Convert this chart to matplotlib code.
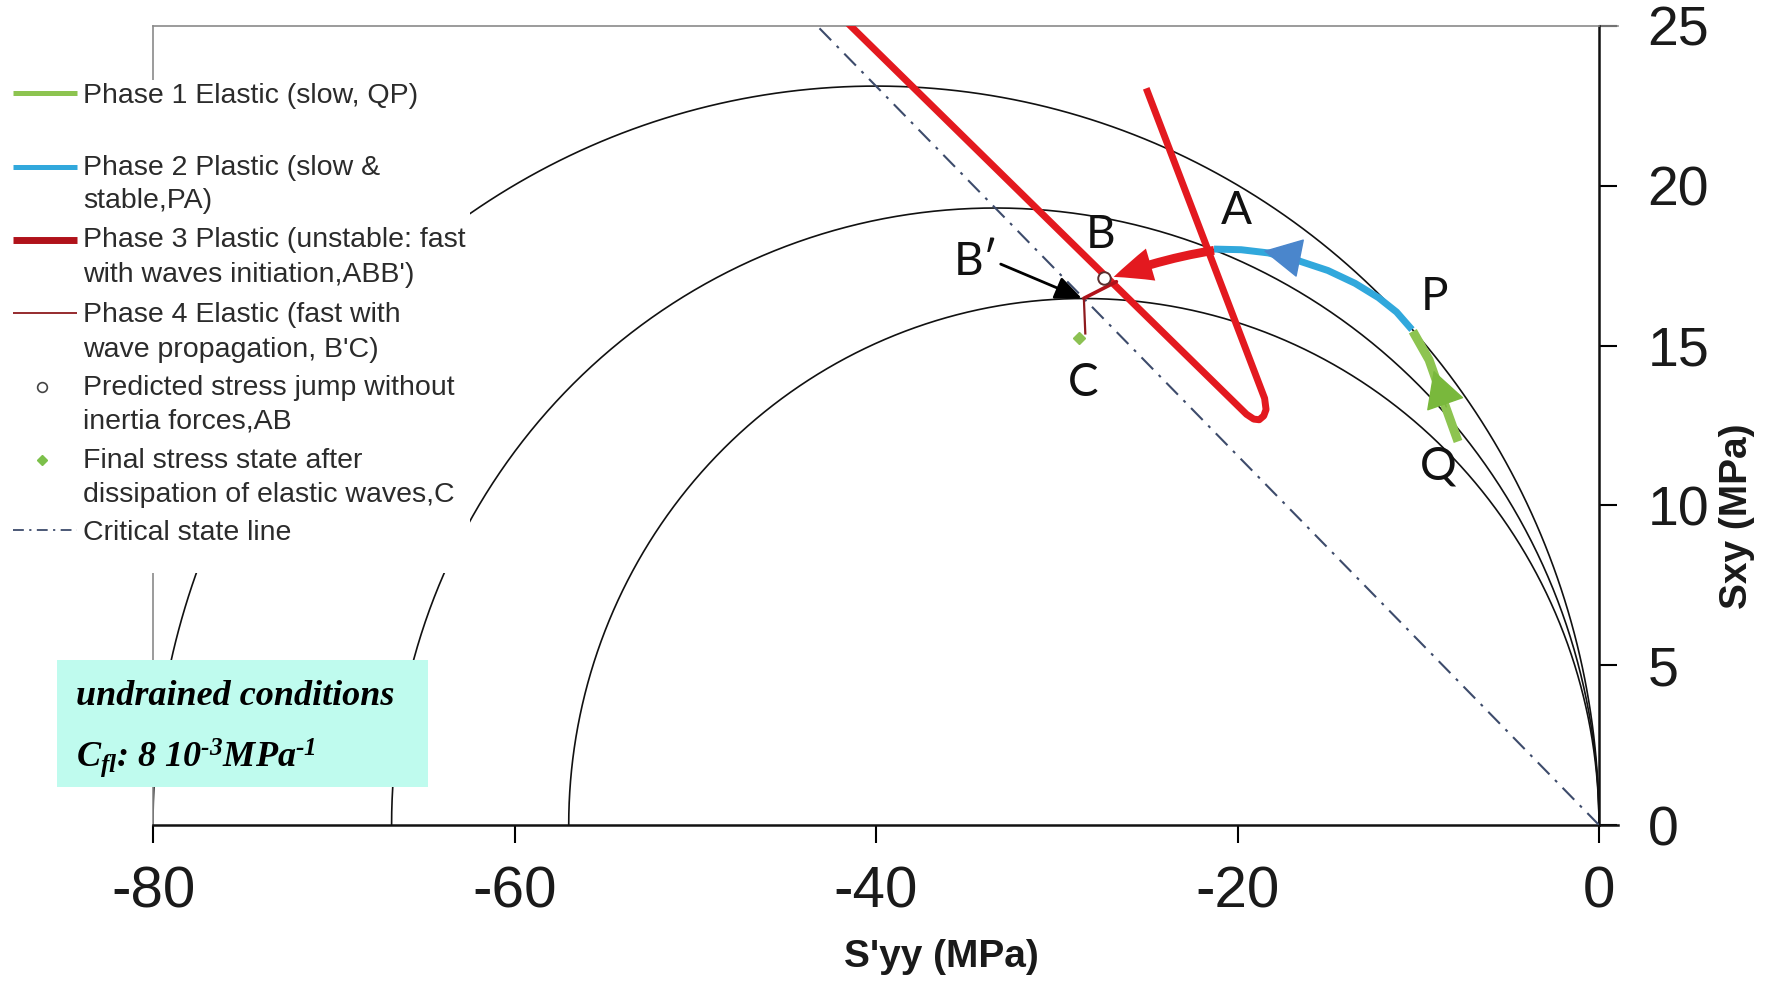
import matplotlib
matplotlib.use('Agg')
import matplotlib.pyplot as plt
import numpy as np
from matplotlib import font_manager as fm
from matplotlib.patches import Rectangle

plt.rcParams['axes.unicode_minus'] = False
plt.rcParams['mathtext.fontset'] = 'custom'
plt.rcParams['mathtext.rm'] = 'Liberation Serif:bold:italic'
plt.rcParams['mathtext.it'] = 'Liberation Serif:bold:italic'
plt.rcParams['mathtext.bf'] = 'Liberation Serif:bold:italic'

avail = {f.name for f in fm.fontManager.ttflist}
NARROW = 'Liberation Sans Narrow' in avail

# ---------------- data ----------------
yield_p0 = [-80.0, -66.8, -57.0]          # yield surface sizes (MPa)
csl_M = 0.578                              # critical state slope

phase1_x = [-7.8, -8.5, -9.4, -10.3]       # Q -> P
phase1_y = [12.0, 13.1, 14.55, 15.45]

phase2_x = [-10.35, -11.2, -12.2, -13.5, -15.0, -16.6, -18.3, -19.8, -21.3]   # P -> A
phase2_y = [15.5, 16.05, 16.5, 16.95, 17.35, 17.65, 17.9, 18.0, 18.02]

phase3_x = [-25.05, -18.5, -18.42, -18.55, -18.8, -19.1, -19.5,
            -27.4, -41.4, -43.0]
phase3_y = [23.05, 13.35, 13.0, 12.8, 12.68, 12.7, 12.85,
            17.23, 25.0, 25.9]

jump_start = (-21.3, 17.98)     # A
jump_end = (-26.85, 17.15)      # arrow tip towards B
bb_x = [-26.7, -28.5]           # B -> B'
bb_y = [17.0, 16.48]
phase4_x = [-28.5, -28.42]      # B' -> C
phase4_y = [16.48, 15.38]
point_B = (-27.38, 17.11)
point_C = (-28.77, 15.23)
bprime_arrow_start = (-33.1, 17.55)
bprime_arrow_end = (-28.62, 16.48)

point_labels = ['A', 'B', 'B\u2032', 'C', 'P', 'Q']
label_x = [-20.05, -27.55, -34.45, -28.54, -9.11, -8.92]
label_y = [19.22, 18.45, 17.63, 13.82, 16.53, 11.21]

x_ticks = [-80, -60, -40, -20, 0]
y_ticks = [0, 5, 10, 15, 20, 25]

legend_lines = [
    ["Phase 1 Elastic (slow, QP)"],
    ["Phase 2 Plastic (slow &", "stable,PA)"],
    ["Phase 3 Plastic (unstable: fast", "with waves initiation,ABB')"],
    ["Phase 4 Elastic (fast with", "wave propagation, B'C)"],
    ["Predicted stress jump without", "inertia forces,AB"],
    ["Final stress state after", "dissipation of elastic waves,C"],
    ["Critical state line"],
]

# ---------------- colours ----------------
GREEN = '#8dc450'
GREEN_D = '#79b83c'
BLUE = '#31a8dc'
BLUE_D = '#4a86cc'
RED = '#e3191f'
RED_D = '#b0121a'
RED_DD = '#8e1a1e'
CSL_C = '#3d4b6b'

W, H = 1791, 981
fig = plt.figure(figsize=(W / 100, H / 100), dpi=100)
ax = fig.add_axes([153 / W, (H - 825) / H, 1446 / W, 799 / H])
ax.set_xlim(-80, 0)
ax.set_ylim(0, 25)

# yield surfaces
t = np.linspace(0, np.pi, 600)
for p0 in yield_p0:
    xs = p0 / 2 + (p0 / 2) * np.cos(t)
    ys = csl_M * abs(p0) / 2 * np.sin(t)
    ax.plot(xs, ys, color='#111111', lw=1.2, zorder=2)

# critical state line
xc = np.array([0.0, -46.0])
ax.plot(xc, -csl_M * xc, color=CSL_C, lw=1.5, ls=(0, (8, 3.8, 1.4, 3.8)), zorder=3)

# phase 3 loop
ax.plot(phase3_x, phase3_y, color=RED, lw=5.0, solid_joinstyle='round',
        solid_capstyle='butt', zorder=4)
# phase 2
ax.plot(phase2_x, phase2_y, color=BLUE, lw=5.0, solid_joinstyle='round',
        solid_capstyle='butt', zorder=5)
ax.annotate('', xy=(-18.7, 17.98), xytext=(-16.4, 17.72),
            arrowprops=dict(arrowstyle='-|>,head_length=1.15,head_width=0.6',
                            color=BLUE_D, lw=1, mutation_scale=22), zorder=6)
# phase 1
ax.plot(phase1_x, phase1_y, color=GREEN, lw=6.5, solid_joinstyle='round',
        solid_capstyle='butt', zorder=5)
ax.annotate('', xy=(-9.2, 14.3), xytext=(-8.4, 13.0),
            arrowprops=dict(arrowstyle='-|>,head_length=1.1,head_width=0.6',
                            color=GREEN_D, lw=1, mutation_scale=22), zorder=6)

# stress jump arrow A -> B
ax.annotate('', xy=jump_end, xytext=jump_start,
            arrowprops=dict(arrowstyle='simple,head_length=1.4,head_width=1.2,tail_width=0.32',
                            color=RED, lw=0, mutation_scale=20,
                            connectionstyle='arc3,rad=0.05', shrinkA=0, shrinkB=0),
            zorder=7)
ax.plot(bb_x, bb_y, color=RED_D, lw=2.6, zorder=7, solid_capstyle='round')
ax.plot(phase4_x, phase4_y, color=RED_DD, lw=1.6, zorder=7)

# B' arrow
ax.annotate('', xy=bprime_arrow_end, xytext=bprime_arrow_start,
            arrowprops=dict(arrowstyle='-|>,head_length=0.8,head_width=0.35',
                            color='black', lw=2.0, mutation_scale=20,
                            shrinkA=0, shrinkB=0), zorder=8)

# markers
ax.plot(*point_B, marker='o', ms=9, mfc='white', mec='#5a3030', mew=1.4, zorder=9)
ax.plot(*point_C, marker='D', ms=6.5, mfc='#8cc152', mec='#8cc152', zorder=9)

# point labels
for s, lx, ly in zip(point_labels, label_x, label_y):
    ax.text(lx, ly, s, fontsize=33, family=['Lato', 'DejaVu Sans'], color='#111111',
            ha='center', va='center', zorder=10)

# axes styling
for side in ['left', 'top']:
    ax.spines[side].set_color('#8a8a8a')
    ax.spines[side].set_linewidth(1.2)
for side in ['bottom', 'right']:
    ax.spines[side].set_color('#111111')
    ax.spines[side].set_linewidth(1.8)
ext = 19 / 1446
ax.plot([1, 1 + ext], [1, 1], transform=ax.transAxes, color='#8a8a8a', lw=1.2, clip_on=False)
ax.plot([1, 1 + ext], [0, 0], transform=ax.transAxes, color='#111111', lw=1.8, clip_on=False)

ax.set_xticks(x_ticks)
ax.set_xticklabels([str(v) for v in x_ticks])
ax.set_yticks(y_ticks)
ax.set_yticklabels([str(v) for v in y_ticks])
ax.yaxis.tick_right()
ax.tick_params(axis='x', direction='out', length=13, width=1.5, pad=16, labelsize=42,
               labelcolor='#1a1a1a', top=False)
ax.tick_params(axis='y', direction='out', length=13, width=1.5, pad=22, labelsize=40,
               labelcolor='#1a1a1a', left=False, right=True)
for lab in ax.get_xticklabels() + ax.get_yticklabels():
    lab.set_family('Liberation Sans')

if NARROW:
    lab_font = dict(family='Liberation Sans Narrow', weight='bold', size=35)
else:
    lab_font = dict(family='Liberation Sans', weight='bold', size=28)
xl = ax.set_xlabel("S'yy (MPa)", **lab_font, color='#1a1a1a')
ax.xaxis.set_label_coords((941 - 153) / 1446, (825 - 957) / 799)
xl.set_va('center')
ax.yaxis.set_label_position('right')
yl = ax.set_ylabel('Sxy (MPa)', **lab_font, color='#1a1a1a')
ax.yaxis.set_label_coords((1737 - 153) / 1446, (825 - 516) / 799)
yl.set_va('center')
yl.set_ha('center')

# ---------------- overlay: legend + note box (pixel coordinates) ----------------
lax = fig.add_axes([0, 0, 1, 1], zorder=20)
lax.set_xlim(0, W)
lax.set_ylim(H, 0)
lax.axis('off')

lax.add_patch(Rectangle((0, 80), 470, 493, facecolor='white', edgecolor='none'))
lax.add_patch(Rectangle((57, 660), 371, 127, facecolor='#bffbee', edgecolor='none'))

baselines = [[103], [175, 208], [247, 282], [322, 357], [395, 428], [468, 502], [540]]
for lines, bls in zip(legend_lines, baselines):
    for s, b in zip(lines, bls):
        lax.text(83, b, s, fontsize=20.5, family='Liberation Sans', color='#2b2b2b',
                 va='baseline', ha='left')

hx = [13, 77]
lax.plot(hx, [93, 93], color=GREEN, lw=3.6, solid_capstyle='butt')
lax.plot(hx, [167, 167], color=BLUE, lw=3.6, solid_capstyle='butt')
lax.plot(hx, [240, 240], color=RED_D, lw=5.0, solid_capstyle='butt')
lax.plot(hx, [313, 313], color=RED_DD, lw=1.3, solid_capstyle='butt')
lax.plot([42], [387], marker='o', ms=7, mfc='white', mec='#444444', mew=1.2)
lax.plot([42], [460], marker='D', ms=5, mfc='#7cc04a', mec='#7cc04a')
lax.plot(hx, [530, 530], color=CSL_C, lw=1.3, ls=(0, (6, 3, 1.2, 3)))

serif = dict(family='Liberation Serif', weight='bold', style='italic', size=26, color='black')
lax.text(76, 705, 'undrained conditions', va='baseline', ha='left', **serif)
lax.text(76, 767, r'$C_{fl}$: 8 10$^{\text{-}3}$MPa$^{\text{-}1}$', va='baseline', ha='left', **serif)

fig.savefig('out.png', dpi=100, facecolor='white')
